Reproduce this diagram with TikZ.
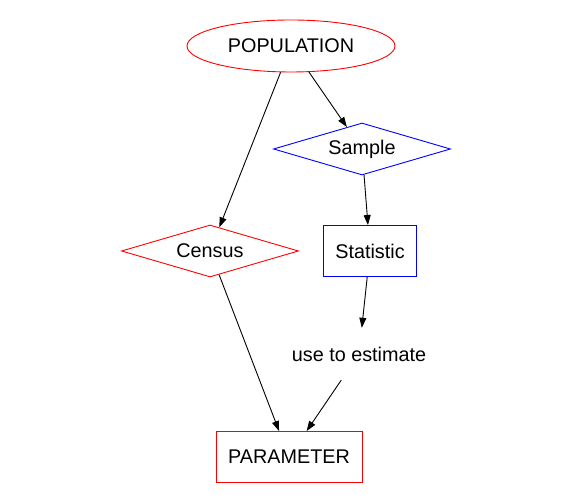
\documentclass[tikz,border=0pt]{standalone}
\usepackage{fontspec}
\setmainfont{Liberation Sans}
\usepackage{tikz}
\usetikzlibrary{shapes, arrows.meta}
\tikzstyle{popnode} = [ellipse, draw=red, inner sep=0pt, line width=0.9pt,
    minimum width=208pt, minimum height=52pt]
\tikzstyle{decision} = [diamond, draw, inner sep=0pt, aspect=3.4, line width=0.9pt,
    minimum width=177pt, minimum height=52pt]
\tikzstyle{measure} = [rectangle, draw, inner sep=0pt, line width=0.9pt, minimum height=51pt]
\tikzstyle{plain} = [rectangle, inner sep=0pt, minimum width=150pt, minimum height=52pt]
\tikzstyle{line} = [draw, line width=0.9pt, -{Triangle[length=10pt, width=7pt]}]

\begin{document}
\begin{tikzpicture}[x=1pt, y=1pt, font=\fontsize{19.8}{23}\selectfont]
    \useasboundingbox (0,0) rectangle (571,502);
    % Nodes
    \node [popnode] (pop) at (291,456) {POPULATION};
    \node [decision, draw=blue] (sample) at (362,353) {Sample};
    \node [decision, draw=red] (census) at (210,251) {Census};
    \node [measure, draw=blue, minimum width=93pt] (statistic) at (370,251) {Statistic};
    \node [plain] (estimate) at (359,148) {use to estimate};
    \node [measure, draw=red, minimum width=146pt] (parameter) at (289,45) {PARAMETER};
    % Edges
    \path [line] (pop) -- (census);
    \path [line] (pop) -- (sample);
    \path [line] (sample) -- (statistic);
    \path [line] (statistic) -- (estimate);
    \path [line] (census) -- (parameter);
    \path [line] (estimate) -- (parameter);
\end{tikzpicture}
\end{document}
